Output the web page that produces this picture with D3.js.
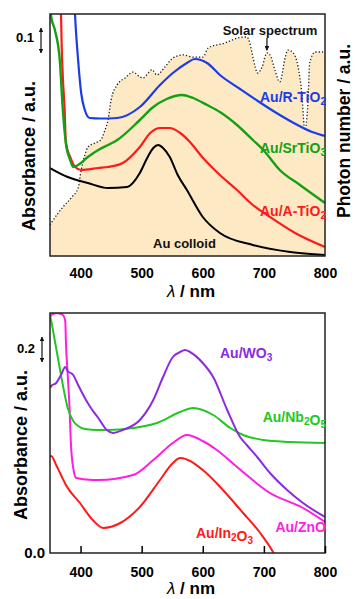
<!DOCTYPE html>
<html>
<head>
<meta charset="utf-8">
<script src="https://cdn.jsdelivr.net/npm/d3@7"></script>
<style>
  body { margin: 0; background: #fff; }
  svg text { font-family: Arial, "Liberation Sans", sans-serif; font-weight: bold; }
</style>
</head>
<body>
<svg id="chart" width="355" height="599"></svg>
<script>
// [wavelength nm, absorbance a.u.]
const solarSpectrum = [[350,0.128],[353,0.140],[371,0.202],[386,0.244],[396,0.281],[401,0.355],[407,0.417],[412,0.450],[424,0.467],[433,0.479],[440,0.521],[445,0.562],[450,0.645],[460,0.707],[473,0.736],[486,0.760],[497,0.740],[502,0.736],[517,0.769],[525,0.748],[538,0.781],[551,0.818],[568,0.831],[584,0.822],[600,0.822],[609,0.860],[636,0.880],[658,0.901],[672,0.905],[677,0.880],[682,0.822],[690,0.756],[697,0.781],[705,0.839],[710,0.831],[718,0.769],[726,0.719],[735,0.822],[739,0.851],[748,0.839],[756,0.781],[762,0.674],[767,0.521],[772,0.632],[775,0.798],[784,0.843],[795,0.843],[800,0.839]];

const auRTiO2 = [[388,1.14],[391,0.964],[396,0.784],[401,0.652],[407,0.584],[415,0.552],[433,0.550],[460,0.552],[497,0.596],[530,0.684],[551,0.732],[574,0.772],[587,0.788],[607,0.772],[628,0.724],[661,0.668],[690,0.62],[718,0.576],[746,0.536],[779,0.496],[800,0.48]];
const auSrTiO3 = [[350,1.004],[352,0.956],[358,0.904],[366,0.784],[371,0.584],[376,0.452],[383,0.384],[388,0.356],[396,0.364],[412,0.396],[429,0.424],[445,0.444],[460,0.464],[497,0.544],[519,0.596],[541,0.628],[566,0.644],[584,0.632],[607,0.604],[628,0.576],[656,0.524],[682,0.464],[699,0.424],[726,0.344],[759,0.284],[800,0.212]];
const auATiO2 = [[366,1.104],[368,0.972],[369,0.852],[371,0.716],[374,0.584],[376,0.452],[383,0.396],[391,0.356],[401,0.344],[429,0.352],[445,0.356],[469,0.372],[497,0.436],[514,0.492],[530,0.512],[546,0.512],[563,0.492],[579,0.456],[599,0.396],[628,0.324],[656,0.264],[682,0.204],[710,0.156],[751,0.092],[800,0.036]];
const auColloid = [[350,0.352],[379,0.316],[412,0.292],[445,0.272],[476,0.276],[497,0.332],[509,0.392],[519,0.432],[527,0.444],[535,0.432],[546,0.396],[559,0.324],[574,0.264],[600,0.156],[628,0.092],[682,0.044],[743,0.016],[800,0.004]];

const auWO3 = [[350,1.32],[352,1.336],[360,1.36],[368,1.424],[375,1.488],[379,1.456],[388,1.424],[396,1.344],[407,1.24],[417,1.16],[429,1.08],[443,0.984],[453,0.96],[469,0.984],[497,1.064],[519,1.224],[535,1.408],[551,1.568],[563,1.608],[571,1.624],[579,1.608],[600,1.52],[617,1.408],[640,1.144],[661,0.928],[672,0.864],[689,0.768],[710,0.64],[738,0.504],[764,0.4],[800,0.288]];
const auNb2O5 = [[350,1.896],[352,1.856],[358,1.696],[363,1.56],[371,1.344],[379,1.16],[388,1.056],[396,1.016],[407,0.992],[429,0.984],[443,0.984],[486,1.0],[525,1.04],[563,1.128],[584,1.16],[617,1.104],[645,1.0],[666,0.944],[699,0.904],[743,0.888],[800,0.88]];
const auZnO = [[350,1.88],[352,1.904],[361,1.92],[371,1.904],[375,1.856],[376,1.696],[379,1.424],[382,1.16],[384,0.896],[388,0.68],[393,0.6],[410,0.588],[429,0.584],[486,0.624],[519,0.744],[551,0.88],[574,0.944],[600,0.896],[623,0.824],[656,0.688],[710,0.48],[764,0.36],[800,0.248]];
const auIn2O3 = [[350,0.768],[352,0.776],[360,0.704],[368,0.624],[376,0.544],[399,0.4],[420,0.264],[437,0.2],[465,0.24],[497,0.368],[530,0.584],[551,0.72],[563,0.76],[600,0.664],[633,0.504],[666,0.32],[694,0.16],[715,0.008],[726,-0.096]];

const xTicks = [400, 500, 600, 700, 800];
const bottomYTicks = [0];

const svg = d3.select("#chart");

const left = 50, right = 325;
const top1 = 14, bottom1 = 256;
const top2 = 313, bottom2 = 553;

const x = d3.scaleLinear().domain([350, 800]).range([left, right]);
const yTop = d3.scaleLinear().domain([0, 0.968]).range([bottom1, top1]);
const yPhoton = d3.scaleLinear().domain([0, 1]).range([bottom1, top1]);
const yBot = d3.scaleLinear().domain([0, 1.92]).range([bottom2, top2]);

const defs = svg.append("defs");
defs.append("clipPath").attr("id", "clipTop")
  .append("rect").attr("x", left).attr("y", top1).attr("width", right - left).attr("height", bottom1 - top1);
defs.append("clipPath").attr("id", "clipBot")
  .append("rect").attr("x", left).attr("y", top2).attr("width", right - left).attr("height", bottom2 - top2);
defs.append("marker")
  .attr("id", "head")
  .attr("viewBox", "0 0 10 10")
  .attr("refX", 9).attr("refY", 5)
  .attr("markerWidth", 4).attr("markerHeight", 4)
  .attr("orient", "auto-start-reverse")
  .append("path").attr("d", "M0,0L10,5L0,10z").attr("fill", "#111");

// ---- top panel ----
const topG = svg.append("g").attr("clip-path", "url(#clipTop)");

topG.append("path")
  .datum(solarSpectrum)
  .attr("fill", "#fde9c4")
  .attr("d", d3.area().x(d => x(d[0])).y0(yPhoton(0)).y1(d => yPhoton(d[1])).curve(d3.curveMonotoneX));

topG.append("path")
  .datum(solarSpectrum)
  .attr("fill", "none")
  .attr("stroke", "#222")
  .attr("stroke-width", 1.3)
  .attr("stroke-dasharray", "1.3,2")
  .attr("d", d3.line().x(d => x(d[0])).y(d => yPhoton(d[1])).curve(d3.curveMonotoneX));

const lineTop = d3.line().x(d => x(d[0])).y(d => yTop(d[1])).curve(d3.curveMonotoneX);
[
  [auColloid, "#000000", 2],
  [auATiO2, "#ff1a1a", 2.2],
  [auSrTiO3, "#13a013", 2.4],
  [auRTiO2, "#1c3ce6", 2.2]
].forEach(([data, color, w]) => {
  topG.append("path").datum(data)
    .attr("fill", "none").attr("stroke", color).attr("stroke-width", w)
    .attr("d", lineTop);
});

svg.append("rect")
  .attr("x", left).attr("y", top1).attr("width", right - left).attr("height", bottom1 - top1)
  .attr("fill", "none").attr("stroke", "#222").attr("stroke-width", 1.5);

svg.append("g")
  .attr("transform", `translate(0,${bottom1})`)
  .call(d3.axisBottom(x).tickValues(xTicks).tickSize(0).tickPadding(12))
  .call(g => g.select(".domain").remove())
  .attr("font-size", 14).attr("font-family", "DejaVu Sans").attr("font-weight", "bold");

// ---- bottom panel ----
const botG = svg.append("g").attr("clip-path", "url(#clipBot)");
const lineBot = d3.line().x(d => x(d[0])).y(d => yBot(d[1])).curve(d3.curveMonotoneX);
[
  [auIn2O3, "#ff1a1a"],
  [auZnO, "#ff1ee0"],
  [auNb2O5, "#22c822"],
  [auWO3, "#8a2be2"]
].forEach(([data, color]) => {
  botG.append("path").datum(data)
    .attr("fill", "none").attr("stroke", color).attr("stroke-width", 2)
    .attr("d", lineBot);
});

svg.append("rect")
  .attr("x", left).attr("y", top2).attr("width", right - left).attr("height", bottom2 - top2)
  .attr("fill", "none").attr("stroke", "#222").attr("stroke-width", 1.5);

svg.append("g")
  .attr("transform", `translate(0,${bottom2})`)
  .call(d3.axisBottom(x).tickValues(xTicks).tickSize(-7).tickPadding(14))
  .call(g => g.select(".domain").remove())
  .call(g => g.selectAll(".tick line").attr("stroke-width", 1.5))
  .attr("font-size", 14).attr("font-family", "DejaVu Sans").attr("font-weight", "bold");

svg.append("g")
  .attr("transform", `translate(${left},0)`)
  .call(d3.axisLeft(yBot).tickValues(bottomYTicks).tickFormat(d3.format(".1f")).tickSize(0).tickPadding(5))
  .call(g => g.select(".domain").remove())
  .attr("font-size", 15).attr("font-family", "DejaVu Sans").attr("font-weight", "bold");

// ---- scale bars ----
function scaleBar(xPos, y0, y1, label, labelY) {
  svg.append("line")
    .attr("x1", xPos).attr("x2", xPos).attr("y1", y0).attr("y2", y1)
    .attr("stroke", "#111").attr("stroke-width", 1.2)
    .attr("marker-start", "url(#head)").attr("marker-end", "url(#head)");
  svg.append("text").attr("x", xPos - 7).attr("y", labelY)
    .attr("text-anchor", "end").attr("font-size", 13).text(label);
}
scaleBar(41, yTop(0.912), yTop(0.812), "0.1", 42);
scaleBar(42, yBot(1.728), yBot(1.528), "0.2", 353);

// ---- labels ----
function label(xPos, yPos, parts, color, anchor, size) {
  const t = svg.append("text")
    .attr("x", xPos).attr("y", yPos)
    .attr("text-anchor", anchor)
    .attr("font-size", size)
    .attr("fill", color);
  parts.forEach(p => {
    if (typeof p === "string") {
      t.append("tspan").text(p);
    } else {
      t.append("tspan").attr("dy", 3).attr("font-size", size * 0.72).text(p.sub);
      t.append("tspan").attr("dy", -3).text("");
    }
  });
}

label(270, 35, ["Solar spectrum"], "#111", "middle", 13);
svg.append("line")
  .attr("x1", x(705)).attr("x2", x(705)).attr("y1", 38).attr("y2", yPhoton(0.85))
  .attr("stroke", "#111").attr("stroke-width", 1.2)
  .attr("marker-end", "url(#head)");

label(326, 102, ["Au/R-TiO", {sub: "2"}], "#1c3ce6", "end", 14);
label(326, 153, ["Au/SrTiO", {sub: "3"}], "#13a013", "end", 14);
label(326, 216, ["Au/A-TiO", {sub: "2"}], "#ff1a1a", "end", 14);
label(153, 248, ["Au colloid"], "#111", "start", 13);

label(220, 358, ["Au/WO", {sub: "3"}], "#8a2be2", "start", 14);
label(326, 422, ["Au/Nb", {sub: "2"}, "O", {sub: "5"}], "#22c822", "end", 14);
label(326, 532, ["Au/ZnO"], "#ff1ee0", "end", 14);
label(196, 538, ["Au/In", {sub: "2"}, "O", {sub: "3"}], "#ff1a1a", "start", 14);

// axis titles
function xTitle(yPos) {
  const t = svg.append("text").attr("x", 191).attr("y", yPos)
    .attr("text-anchor", "middle").attr("font-size", 17);
  t.append("tspan").attr("font-style", "italic").attr("font-weight", "normal").text("λ");
  t.append("tspan").text(" / nm");
}
xTitle(297);
xTitle(594);

svg.append("text")
  .attr("transform", "translate(35,156) rotate(-90)")
  .attr("text-anchor", "middle").attr("font-size", 18)
  .text("Absorbance / a.u.");
svg.append("text")
  .attr("transform", "translate(27,445) rotate(-90)")
  .attr("text-anchor", "middle").attr("font-size", 18)
  .text("Absorbance / a.u.");
svg.append("text")
  .attr("transform", "translate(350,131) rotate(-90)")
  .attr("text-anchor", "middle").attr("font-size", 17.5)
  .text("Photon number / a.u.");
</script>
</body>
</html>
